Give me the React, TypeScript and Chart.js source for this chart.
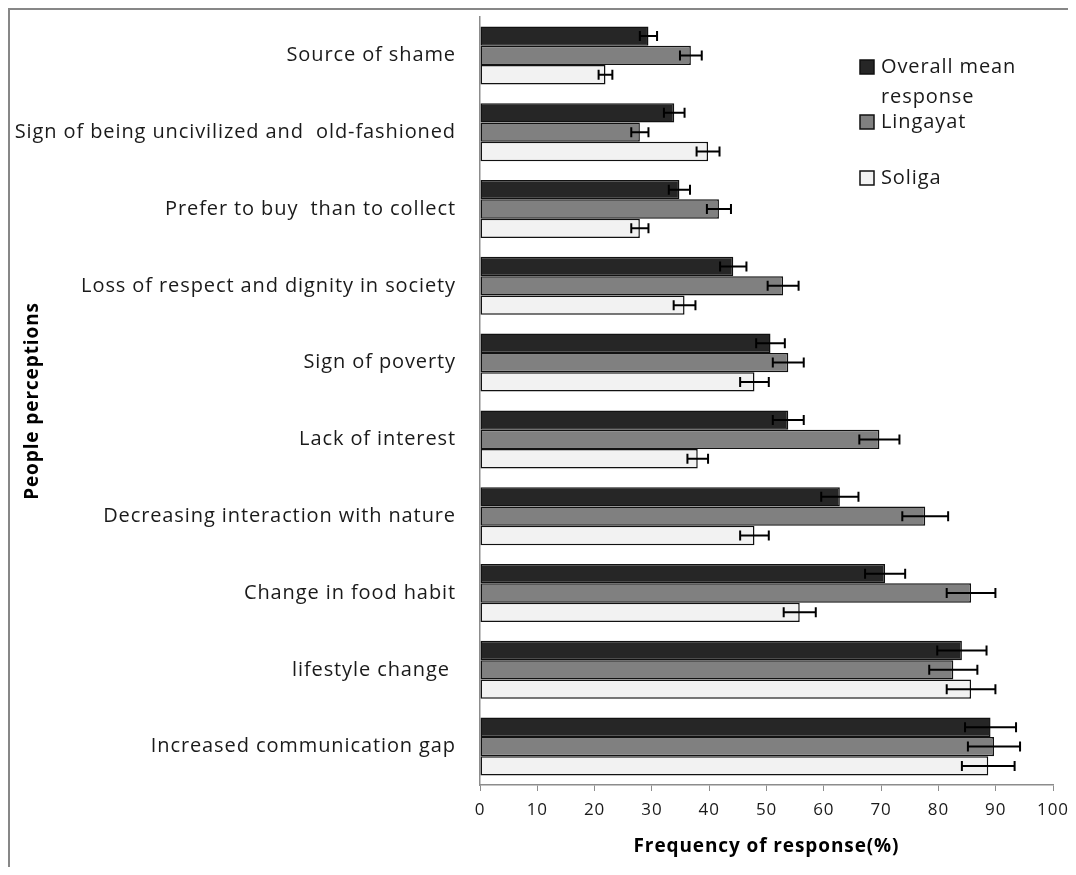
import React, { useEffect, useRef } from 'react';
import { Chart, registerables } from 'chart.js';

Chart.register(...registerables);

const categories = [
  'Source of shame',
  'Sign of being uncivilized and  old-fashioned',
  'Prefer to buy  than to collect',
  'Loss of respect and dignity in society',
  'Sign of poverty',
  'Lack of interest',
  'Decreasing interaction with nature',
  'Change in food habit',
  'lifestyle change ',
  'Increased communication gap',
];

const overallMean = [29.4, 33.9, 34.8, 44.2, 50.7, 53.8, 62.8, 70.7, 84.1, 89.1];
const overallErr = [1.5, 1.8, 1.85, 2.3, 2.5, 2.7, 3.25, 3.5, 4.3, 4.45];
const lingayat = [36.8, 27.9, 41.7, 52.9, 53.8, 69.7, 77.7, 85.7, 82.6, 89.7];
const lingayatErr = [1.9, 1.5, 2.1, 2.7, 2.7, 3.5, 4.0, 4.25, 4.2, 4.55];
const soliga = [21.9, 39.8, 27.9, 35.7, 47.9, 38.0, 47.9, 55.8, 85.7, 88.7];
const soligaErr = [1.2, 2.0, 1.5, 1.9, 2.5, 1.8, 2.5, 2.8, 4.25, 4.6];

const seriesNames = ['Overall mean response', 'Lingayat', 'Soliga'];
const legendLines = [['Overall mean', 'response'], ['Lingayat'], ['Soliga']];
const xTicks = [0, 10, 20, 30, 40, 50, 60, 70, 80, 90, 100];

const FONT = '"Open Sans", "Noto Sans", sans-serif';
const SPACING = '0.9px';

const spacingPlugin = {
  id: 'textSpacing',
  beforeDraw(chart: any) {
    (chart.ctx as any).letterSpacing = SPACING;
  },
  afterDraw(chart: any) {
    (chart.ctx as any).letterSpacing = '0px';
  },
};

const errorBarPlugin = {
  id: 'errorBars',
  afterDatasetsDraw(chart: any) {
    const ctx = chart.ctx;
    const xs = chart.scales.x;
    chart.data.datasets.forEach((ds: any, di: number) => {
      const meta = chart.getDatasetMeta(di);
      meta.data.forEach((bar: any, i: number) => {
        const v = ds.data[i];
        const e = ds.errors[i];
        const x1 = xs.getPixelForValue(v - e);
        const x2 = xs.getPixelForValue(v + e);
        const y = bar.y;
        ctx.save();
        ctx.strokeStyle = '#000';
        ctx.lineWidth = 2;
        ctx.beginPath();
        ctx.moveTo(x1, y);
        ctx.lineTo(x2, y);
        ctx.moveTo(x1, y - 5);
        ctx.lineTo(x1, y + 5);
        ctx.moveTo(x2, y - 5);
        ctx.lineTo(x2, y + 5);
        ctx.stroke();
        ctx.restore();
      });
    });
  },
};

const customLegendPlugin = {
  id: 'customLegend',
  afterDraw(chart: any) {
    const ctx = chart.ctx;
    const opts = chart.options.plugins.customLegend;
    ctx.save();
    (ctx as any).letterSpacing = SPACING;
    ctx.font = `20px ${FONT}`;
    ctx.textBaseline = 'middle';
    chart.data.datasets.forEach((ds: any, i: number) => {
      const y = opts.rows[i];
      ctx.fillStyle = ds.backgroundColor;
      ctx.fillRect(opts.x, y - 7, 14, 14);
      ctx.strokeStyle = '#111';
      ctx.lineWidth = 1.5;
      ctx.strokeRect(opts.x, y - 7, 14, 14);
      ctx.fillStyle = '#1a1a1a';
      legendLines[i].forEach((line, li) => {
        ctx.fillText(line, opts.x + 21, y + li * 30);
      });
    });
    ctx.restore();
  },
};

export default function App() {
  const ref = useRef<HTMLCanvasElement>(null);

  useEffect(() => {
    if (!ref.current) return;
    const mk = (label: string, data: number[], errors: number[], color: string) => ({
      label,
      data,
      errors,
      backgroundColor: color,
      borderColor: '#111',
      borderWidth: 1.5,
      borderSkipped: false,
      categoryPercentage: 0.755,
      barPercentage: 1.0,
    });
    const chart = new Chart(ref.current, {
      type: 'bar',
      data: {
        labels: categories,
        datasets: [
          mk(seriesNames[0], overallMean, overallErr, '#262626'),
          mk(seriesNames[1], lingayat, lingayatErr, '#808080'),
          mk(seriesNames[2], soliga, soligaErr, '#f2f2f2'),
        ] as any,
      },
      options: {
        indexAxis: 'y',
        responsive: false,
        animation: false,
        layout: { padding: { top: 9, left: 0, right: 15, bottom: 0 } },
        plugins: {
          legend: { display: false },
          tooltip: { enabled: false },
          customLegend: { x: 852, rows: [59, 114, 170] },
        } as any,
        scales: {
          x: {
            min: 0,
            max: 100,
            afterBuildTicks: (scale: any) => {
              scale.ticks = xTicks.map((v) => ({ value: v }));
            },
            afterFit: (scale: any) => {
              scale.height = 82;
              scale.paddingLeft = 0;
              scale.paddingRight = 0;
            },
            grid: {
              drawOnChartArea: false,
              drawTicks: true,
              tickLength: 6,
              color: '#8c8c8c',
            },
            border: { display: true, color: '#8c8c8c', width: 1.5 },
            ticks: {
              font: { family: FONT, size: 17 },
              color: '#1a1a1a',
              padding: 9,
              maxRotation: 0,
            },
            title: {
              display: true,
              text: 'Frequency of response(%)',
              font: { family: FONT, size: 19, weight: 'bold' },
              color: '#000',
              padding: { top: 0, bottom: 9 },
            },
          },
          y: {
            afterFit: (scale: any) => {
              scale.width = 472;
              scale.paddingTop = 0;
              scale.paddingBottom = 0;
            },
            grid: { display: false, drawTicks: false },
            border: { display: true, color: '#8c8c8c', width: 1.5 },
            ticks: {
              font: { family: FONT, size: 20 },
              color: '#1a1a1a',
              padding: 24,
              autoSkip: false,
            },
            title: {
              display: true,
              text: 'People perceptions',
              font: { family: FONT, size: 19, weight: 'bold' },
              color: '#000',
              padding: { top: 13, bottom: 0 },
            },
          },
        },
      },
      plugins: [spacingPlugin, errorBarPlugin, customLegendPlugin],
    });
    return () => chart.destroy();
  }, []);

  return (
    <div style={{ position: 'relative', width: 1060, height: 859, overflow: 'hidden' }}>
      <canvas ref={ref} width={1060} height={859} style={{ position: 'absolute', left: 0, top: 0 }} />
      <div
        style={{
          position: 'absolute',
          left: 0,
          top: 0,
          width: 1100,
          height: 900,
          borderLeft: '2px solid #878787',
          borderTop: '2px solid #878787',
          pointerEvents: 'none',
        }}
      />
    </div>
  );
}
